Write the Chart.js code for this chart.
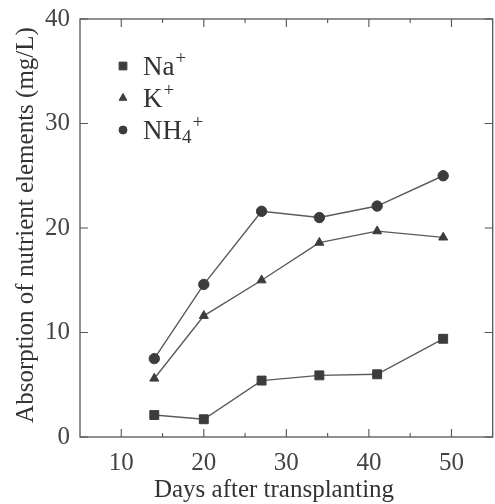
<!DOCTYPE html>
<html>
<head>
<meta charset="utf-8">
<script src="https://cdn.jsdelivr.net/npm/chart.js@4.4.1/dist/chart.umd.min.js"></script>
<style>
    html, body { margin: 0; padding: 0; background: #fff; overflow: hidden; }
    #wrap { width: 500px; height: 504px; }
</style>
</head>
<body>
<div id="wrap"><canvas id="lineChart" width="500" height="504"></canvas></div>
<script>
// days after transplanting
const days = [14, 20, 27, 34, 41, 49];
const na = [2.1, 1.7, 5.4, 5.9, 6.0, 9.4];
const k = [5.6, 11.6, 15.0, 18.6, 19.7, 19.1];
const nh4 = [7.5, 14.6, 21.6, 21.0, 22.1, 25.0];

const seriesLabels = ['Na⁺', 'K⁺', 'NH₄⁺'];
const xTicks = [10, 20, 30, 40, 50];
const xMinorTicks = [15, 25, 35, 45];
const yTicks = [0, 10, 20, 30, 40];

const FONT = '"Liberation Serif", "DejaVu Serif", serif';
const INK = '#3c3c3c';
const LINE = '#5a5a5a';

function pts(ys) {
    return days.map((d, i) => ({ x: d, y: ys[i] }));
}

function series(label, ys, style, radius, legendRadius) {
    return {
        label: label,
        data: pts(ys),
        borderColor: LINE,
        borderWidth: 1.4,
        pointStyle: style,
        pointRadius: radius,
        legendRadius: legendRadius,
        pointBackgroundColor: INK,
        pointBorderColor: INK,
        pointBorderWidth: 1,
        tension: 0
    };
}

// draws text where ⁺ is raised and ₄ is lowered
function drawRich(ctx, text, x, y, size) {
    let cx = x;
    for (const ch of text) {
        if (ch === '⁺') {
            ctx.font = Math.round(size * 0.72) + 'px ' + FONT;
            ctx.fillText('+', cx + 1, y - size * 0.4);
            cx += ctx.measureText('+').width + 1;
        } else if (ch === '₄') {
            ctx.font = Math.round(size * 0.7) + 'px ' + FONT;
            ctx.fillText('4', cx, y + size * 0.16);
            cx += ctx.measureText('4').width;
        } else {
            ctx.font = size + 'px ' + FONT;
            ctx.fillText(ch, cx, y);
            cx += ctx.measureText(ch).width;
        }
    }
}

const framePlugin = {
    id: 'frame',
    afterDraw(chart) {
        const ctx = chart.ctx;
        const a = chart.chartArea;
        const xs = chart.scales.x, ys = chart.scales.y;
        ctx.save();
        ctx.strokeStyle = '#555';
        ctx.lineWidth = 1.3;
        ctx.strokeRect(a.left, a.top, a.right - a.left, a.bottom - a.top);

        // inward ticks on all four sides
        ctx.lineWidth = 1.1;
        ctx.beginPath();
        xTicks.forEach(v => {
            const px = xs.getPixelForValue(v);
            ctx.moveTo(px, a.bottom); ctx.lineTo(px, a.bottom - 8);
            ctx.moveTo(px, a.top); ctx.lineTo(px, a.top + 8);
        });
        xMinorTicks.forEach(v => {
            const px = xs.getPixelForValue(v);
            ctx.moveTo(px, a.bottom); ctx.lineTo(px, a.bottom - 4);
            ctx.moveTo(px, a.top); ctx.lineTo(px, a.top + 4);
        });
        yTicks.forEach(v => {
            const py = ys.getPixelForValue(v);
            ctx.moveTo(a.left, py); ctx.lineTo(a.left + 8, py);
            ctx.moveTo(a.right, py); ctx.lineTo(a.right - 8, py);
        });
        ctx.stroke();

        // axis titles
        ctx.fillStyle = '#333';
        ctx.textAlign = 'center';
        ctx.textBaseline = 'alphabetic';
        ctx.font = '25px ' + FONT;
        ctx.fillText('Days after transplanting', 274, 497);
        ctx.save();
        ctx.translate(33, 225);
        ctx.rotate(-Math.PI / 2);
        ctx.font = '25px ' + FONT;
        ctx.fillText('Absorption of nutrient elements (mg/L)', 0, 0);
        ctx.restore();

        // legend inside the plot
        ctx.textAlign = 'left';
        chart.data.datasets.forEach((ds, i) => {
            const my = a.top + 47 + i * 32;
            const mx = a.left + 43;
            ctx.fillStyle = INK;
            ctx.strokeStyle = INK;
            ctx.lineWidth = 1;
            Chart.helpers.drawPoint(ctx, { pointStyle: ds.pointStyle, radius: ds.legendRadius, rotation: 0, borderWidth: 1 }, mx, my);
            ctx.fillStyle = '#333';
            drawRich(ctx, ds.label, mx + 20, my + 9, 27);
        });
        ctx.restore();
    }
};

const ctx = document.getElementById('lineChart').getContext('2d');
const lineChart = new Chart(ctx, {
    type: 'line',
    data: {
        datasets: [
            series(seriesLabels[0], na, 'rect', 6.3, 5.5),
            series(seriesLabels[1], k, 'triangle', 5.2, 4.5),
            series(seriesLabels[2], nh4, 'circle', 5.2, 4)
        ]
    },
    options: {
        responsive: false,
        animation: false,
        layout: { padding: { left: 0, top: 19, right: 4, bottom: 0 } },
        plugins: { legend: { display: false }, tooltip: { enabled: false } },
        scales: {
            x: {
                type: 'linear',
                min: 5,
                max: 55,
                afterBuildTicks: s => { s.ticks = xTicks.map(v => ({ value: v })); },
                afterFit: s => { s.height = 67; },
                grid: { display: false },
                border: { display: false },
                ticks: { color: '#444', padding: 3, font: { family: FONT, size: 25 }, maxRotation: 0 }
            },
            y: {
                min: 0,
                max: 40,
                afterBuildTicks: s => { s.ticks = yTicks.map(v => ({ value: v })); },
                afterFit: s => { s.width = 80; },
                grid: { display: false },
                border: { display: false },
                ticks: { color: '#444', padding: 2, font: { family: FONT, size: 25 } }
            }
        }
    },
    plugins: [framePlugin]
});
</script>
</body>
</html>
